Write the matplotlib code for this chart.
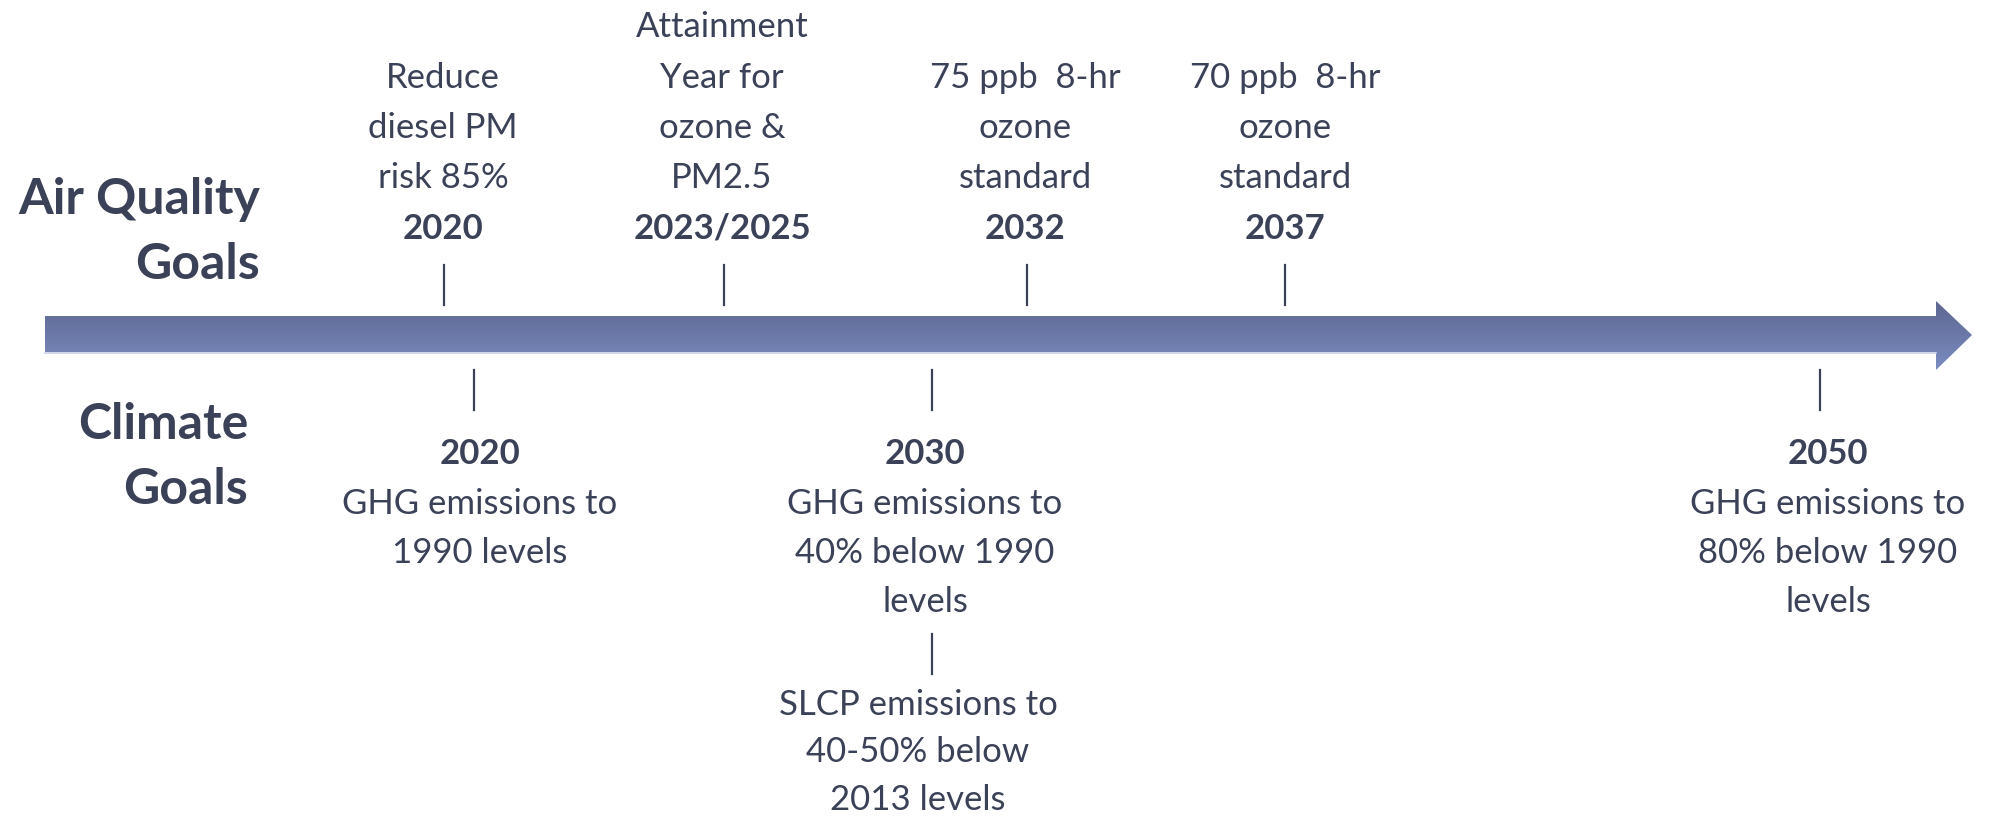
import numpy as np
import matplotlib.pyplot as plt
from matplotlib.patches import Polygon

plt.rcParams['font.family'] = ['Lato', 'DejaVu Sans']

# air quality milestones (above the arrow)
aq_years = ["2020", "2023/2025", "2032", "2037"]
aq_text = [
    ["Reduce", "diesel PM", "risk 85%"],
    ["Attainment", "Year for", "ozone &", "PM2.5"],
    ["75 ppb  8-hr", "ozone", "standard"],
    ["70 ppb  8-hr", "ozone", "standard"],
]
# climate milestones (below the arrow)
cl_years = ["2020", "2030", "2050"]
cl_text = [
    ["GHG emissions to", "1990 levels"],
    ["GHG emissions to", "40% below 1990", "levels"],
    ["GHG emissions to", "80% below 1990", "levels"],
]
cl_extra = ["SLCP emissions to", "40-50% below", "2013 levels"]

# layout (pixels)
aq_x = [444, 724, 1027, 1285]
aq_tx = [443, 722, 1025, 1285]
cl_x = [474, 932, 1820]
cl_tx = [480, 925, 1828]
W, H = 2000, 827
txt = '#3b4257'
fs = 25
lsp = 50.5

fig = plt.figure(figsize=(W / 100, H / 100), dpi=100)
ax = fig.add_axes([0, 0, 1, 1])
ax.set_xlim(0, W)
ax.set_ylim(H, 0)
ax.axis('off')

# gradient arrow
y0, y1 = 316, 352
pts = [(45, y0), (1936, y0), (1936, 301), (1972, 335), (1936, 370), (1936, y1), (45, y1)]
poly = Polygon(pts, closed=True, facecolor='none', edgecolor='none')
ax.add_patch(poly)
top = np.array([92, 103, 143]) / 255
bot = np.array([124, 140, 194]) / 255
t = np.linspace(0, 1, 256)[:, None]
grad = (top[None, :] * (1 - t) + bot[None, :] * t)[:, None, :]
im = ax.imshow(grad, extent=[45, 1972, 370, 301], aspect='auto', interpolation='bilinear', zorder=2)
im.set_clip_path(poly)
ax.plot([45, 1936], [y1 + 1, y1 + 1], color='#c9d0e6', lw=1.2, zorder=3)

# row labels
lab = dict(ha='right', va='baseline', fontsize=36, fontweight='bold', color=txt)
ax.text(260, 214, "Air Quality", **lab)
ax.text(260, 279, "Goals", **lab)
ax.text(248, 439, "Climate", **lab)
ax.text(248, 504, "Goals", **lab)

# top milestones
for x, tx, yr, lines in zip(aq_x, aq_tx, aq_years, aq_text):
    ax.plot([x, x], [265, 305], color=txt, lw=1.6)
    base = 239
    ax.text(tx, base, yr, ha='center', va='baseline', fontsize=fs, fontweight='bold', color=txt)
    for i, s in enumerate(reversed(lines)):
        ax.text(tx, base - lsp * (i + 1), s, ha='center', va='baseline', fontsize=fs, color=txt)

# bottom milestones
for x, tx, yr, lines in zip(cl_x, cl_tx, cl_years, cl_text):
    ax.plot([x, x], [370, 410], color=txt, lw=1.6)
    base = 464
    ax.text(tx, base, yr, ha='center', va='baseline', fontsize=fs, fontweight='bold', color=txt)
    for i, s in enumerate(lines):
        ax.text(tx, base + 49.5 * (i + 1), s, ha='center', va='baseline', fontsize=fs, color=txt)

# second 2030 item
ax.plot([cl_x[1], cl_x[1]], [634, 674], color=txt, lw=1.6)
for i, s in enumerate(cl_extra):
    ax.text(918, 715 + 47.5 * i, s, ha='center', va='baseline', fontsize=fs, color=txt)

fig.savefig('out.png', dpi=100, facecolor='white')
